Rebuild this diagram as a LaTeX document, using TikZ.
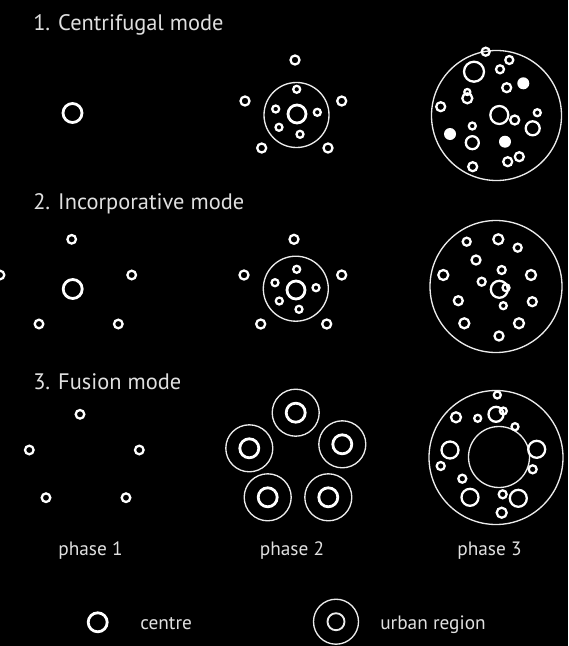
\documentclass[tikz,border=0pt]{standalone}
\usepackage{fontspec}
\setmainfont{PT Sans}
\begin{document}
\begin{tikzpicture}[x=0.75pt,y=-0.75pt,
  ring/.style={draw=white,line width=1.7pt},
  centrering/.style={draw=white,line width=2.1pt},
  region/.style={draw=white!92!black,line width=1pt},
  blob/.style={fill=white},
  title/.style={anchor=base west,inner sep=0pt,text=white!88!black,
    font=\fontsize{16.8}{19}\selectfont},
  label/.style={anchor=base west,inner sep=0pt,text=white!88!black,
    font=\fontsize{14.5}{17}\selectfont},
  phase/.style={anchor=base,inner sep=0pt,text=white!88!black,
    font=\fontsize{14.5}{17}\selectfont}]
\fill[black] (0,0) rectangle (568,646);
\useasboundingbox (0,0) rectangle (568,646);

% ---------- titles ----------
\node[title] (t1) at (33,31) {1. Centrifugal mode};
\node[title] (t2) at (33,209) {2. Incorporative mode};
\node[title] (t3) at (33,389) {3. Fusion mode};

% ---------- 1. centrifugal ----------
% phase 1
\draw[centrering] (72.5,113) circle (9.5);
% phase 2
\draw[region] (296.5,115) circle (32.5);
\draw[centrering] (297,114) circle (9);
\foreach \x/\y in {295/60, 245/101, 341.7/101, 261.7/148, 328/148}
  \draw[ring] (\x,\y) circle (4.5);
\foreach \x/\y in {296.7/89.3, 275.7/109, 317.3/112.3, 279/127.3, 300/134.3}
  \draw[ring] (\x,\y) circle (3.5);
% phase 3
\draw[region] (496.5,115.5) circle (65);
\foreach \x/\y/\r in {485.7/51.7/4, 474/71.7/10, 500/69.3/4, 509.3/60/4,
  506.7/87.7/4.5, 467.3/92/3, 467.3/98.3/5, 440.7/106.7/4.5, 499.3/115/9,
  514.7/120/4.5, 537.3/112.7/3.5, 532.7/128.3/7, 472.3/126/3.5,
  472.3/142.7/6.5, 507.7/161.7/4.5, 519.3/156.7/4.5, 472.7/166.7/4.5}
  \draw[ring] (\x,\y) circle (\r);
\foreach \x/\y in {523.3/83.3, 450/134, 505/141.7}
  \fill[blob] (\x,\y) circle (6);

% ---------- 2. incorporative ----------
% phase 1
\draw[centrering] (72.7,289) circle (9.5);
\foreach \x/\y in {71.7/239.3, 0/275, 131.7/275, 39/324, 118.3/324}
  \draw[ring] (\x,\y) circle (4.3);
% phase 2
\draw[region] (295.8,288.7) circle (32.5);
\draw[centrering] (296,290) circle (9);
\foreach \x/\y in {294/239.3, 244/275, 341.7/275, 260.7/324, 326.7/324}
  \draw[ring] (\x,\y) circle (4.5);
\foreach \x/\y in {296.7/269.3, 275/282.7, 316/287.7, 279.3/301, 299/309.3}
  \draw[ring] (\x,\y) circle (3.5);
% phase 3
\draw[region] (496,286.5) circle (66);
\foreach \x/\y/\r in {466.7/241.7/4, 498.3/239.3/5, 517.7/247.7/4, 476/260/4.5,
  443.3/275/5, 531/275/5, 501.7/270/4, 481.7/281.7/4, 499.3/289.3/8.5,
  506/287.7/3.5, 503.3/305.7/3.5, 458.3/300.7/4.5, 532.3/301.7/4.5,
  464.3/323.3/5, 519/323.3/5, 499/336/4.5}
  \draw[ring] (\x,\y) circle (\r);

% ---------- 3. fusion ----------
% phase 1
\foreach \x/\y in {80/414.3, 29.3/450, 139.3/450, 46/497.7, 126/497.7}
  \draw[ring] (\x,\y) circle (4.3);
% phase 2
\foreach \x/\y in {295.7/412.7, 249.3/448.3, 342.3/444.3, 267.7/497.3, 328.3/497.3}{
  \draw[region] (\x,\y) circle (23.5);
  \draw[centrering] (\x,\y) circle (9.5);
}
% phase 3
\draw[region] (496,457.5) circle (67);
\draw[region] (499,457) circle (30.5);
\foreach \x/\y/\r in {497.3/395/3.5, 496/414.3/7.5, 503.3/411/3.5, 456/417.3/5,
  477.7/418.3/3.5, 515/426.7/3.5, 450/450/8.5, 536.7/449.3/8.5,
  440.7/466/4, 532.7/469.3/4, 462.3/478.7/4, 470/497.3/8.5, 502.7/494.3/4,
  518.3/498.3/8.5, 501.7/512.7/5}
  \draw[ring] (\x,\y) circle (\r);

% ---------- phase labels ----------
\node[phase] (p1) at (90.5,555) {phase 1};
\node[phase] (p2) at (292,555) {phase 2};
\node[phase] (p3) at (489.5,555) {phase 3};

% ---------- legend ----------
\draw[centrering] (97.7,622.3) circle (9.5);
\node[label] (lc) at (140,629) {centre};
\draw[region] (336,621.7) circle (22.5);
\draw[region,line width=1.4pt] (336,621.7) circle (8.5);
\node[label] (lu) at (380,629) {urban region};
\end{tikzpicture}
\end{document}
